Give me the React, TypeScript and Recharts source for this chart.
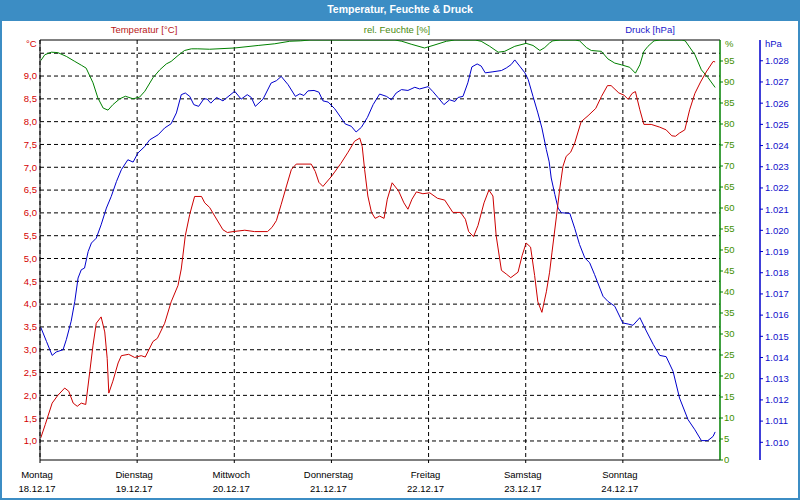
import React from 'react';
import { LineChart, Line, XAxis, YAxis, CartesianGrid, ReferenceLine } from 'recharts';

// x positions are hours since Monday 18.12.17 00:00
const dayNames = ['Montag', 'Dienstag', 'Mittwoch', 'Donnerstag', 'Freitag', 'Samstag', 'Sonntag'];
const dayDates = ['18.12.17', '19.12.17', '20.12.17', '21.12.17', '22.12.17', '23.12.17', '24.12.17'];
const dayTicks = [0, 24, 48, 72, 96, 120, 144];

const tempTicks = [1.0, 1.5, 2.0, 2.5, 3.0, 3.5, 4.0, 4.5, 5.0, 5.5, 6.0, 6.5, 7.0, 7.5, 8.0, 8.5, 9.0, 9.5];
const humTicks = [0, 5, 10, 15, 20, 25, 30, 35, 40, 45, 50, 55, 60, 65, 70, 75, 80, 85, 90, 95];
const presTicks = [1010, 1011, 1012, 1013, 1014, 1015, 1016, 1017, 1018, 1019, 1020, 1021, 1022, 1023, 1024, 1025, 1026, 1027, 1028];

const tempHours = [0.2, 1.3, 3.0, 4.4, 6.1, 7.1, 8.2, 9.2, 10.2, 11.3, 12.3, 13.1, 13.9, 15.1, 16.0, 16.6, 17.0, 18.0, 19.3, 20.1, 21.9, 23.4, 25.0, 26.0, 27.9, 29.0, 30.8, 32.4, 34.1, 34.9, 35.9, 37.0, 38.2, 39.9, 40.7, 41.9,
  42.7, 45.2, 46.3, 47.7, 50.6, 53.0, 56.2, 57.3, 58.4, 59.6, 60.9, 62.1, 63.3, 67.0, 68.0, 68.9, 69.9, 72.1, 74.3, 76.1, 77.7, 79.0, 79.6, 80.2, 81.0, 81.9, 82.8, 83.9,
  85.0, 85.8, 87.0, 88.6, 89.9, 90.9, 91.9, 93.0, 94.6, 96.3, 98.2, 100.0, 102.0, 103.9, 105.1, 105.9, 107.1, 108.2, 109.7, 110.9, 111.9, 112.7, 114.0, 115.2, 116.3, 118.1, 119.1, 120.1, 121.2, 122.2, 123.0, 124.0, 125.1, 125.9,
  126.5, 127.6, 128.4, 129.2, 130.0, 131.1, 132.1, 133.7, 135.4, 137.3, 138.7, 140.2, 141.1, 143.0, 144.3, 145.3, 146.3, 147.1, 148.2, 149.2, 151.0, 153.1, 154.7, 156.1, 157.0, 158.0, 159.3, 160.5, 161.8, 163.2, 164.6, 166.3, 166.8];
const tempValues = [1.07, 1.36, 1.83, 2.0, 2.16, 2.09, 1.83, 1.76, 1.83, 1.80, 2.52, 3.10, 3.58, 3.72, 3.39, 2.81, 2.05, 2.31, 2.71, 2.87, 2.90, 2.83, 2.87, 2.84, 3.18, 3.25, 3.58, 4.05, 4.41, 4.77, 5.50, 5.97, 6.36, 6.36, 6.22, 6.12,
  6.0, 5.63, 5.57, 5.59, 5.62, 5.59, 5.59, 5.68, 5.83, 6.19, 6.59, 6.95, 7.07, 7.07, 6.91, 6.67, 6.58, 6.81, 7.08, 7.33, 7.57, 7.64, 7.46, 6.95, 6.37, 6.01, 5.88, 5.93,
  5.88, 6.30, 6.66, 6.48, 6.22, 6.08, 6.30, 6.46, 6.42, 6.44, 6.32, 6.28, 6.01, 6.01, 5.86, 5.59, 5.48, 5.72, 6.22, 6.50, 6.37, 5.50, 4.74, 4.66, 4.58, 4.70, 5.06, 5.34, 5.25, 4.63, 4.05, 3.82, 4.27, 4.70,
  5.14, 5.93, 6.52, 7.02, 7.24, 7.33, 7.53, 8.00, 8.13, 8.29, 8.55, 8.79, 8.79, 8.63, 8.58, 8.49, 8.62, 8.66, 8.26, 7.94, 7.94, 7.88, 7.82, 7.69, 7.68, 7.75, 7.82, 8.26, 8.62, 8.87, 9.09, 9.32, 9.31];

const humHours = [0.2, 1.2, 2.8, 4.4, 6.5, 8.6, 10.2, 11.4, 13.1, 14.3, 15.6, 16.8, 18.0, 19.7, 21.1, 23.0, 24.6, 25.9, 27.9, 29.6, 31.2, 32.4, 34.1, 35.7, 37.4, 39.0, 41.9, 48.1, 53.9, 58.0, 61.7, 64.4, 66.7, 87.7, 89.4, 91.7, 95.0, 97.1, 100.4, 102.5, 107.5, 109.0, 111.1, 113.2, 114.8, 117.3, 120.1, 121.8, 123.5, 124.7, 125.9, 126.7, 128.5, 132.2, 133.3, 135.0, 136.2, 138.7, 140.3, 142.0, 143.6, 145.7, 147.1, 148.2, 149.2, 150.2, 151.7, 153.2, 158.6, 159.4, 161.8, 163.4, 165.0, 166.8];
const humValues = [95.1, 96.5, 97.1, 97.0, 96.1, 94.9, 94.0, 93.3, 89.8, 86.2, 83.8, 83.3, 84.6, 86.0, 86.6, 86.0, 86.4, 87.8, 91.0, 92.9, 94.3, 94.9, 96.3, 97.5, 97.9, 97.9, 97.8, 98.1, 98.7, 99.1, 99.7, 99.8, 100, 100, 99.7, 99.0, 98.1, 98.7, 99.7, 100, 100, 99.7, 98.5, 97.1, 97.3, 98.5, 99.2, 98.7, 97.5, 98.2, 99.3, 99.8, 100, 100, 99.8, 98.2, 97.5, 97.3, 95.5, 94.5, 94.1, 93.5, 92.1, 94.1, 97.3, 98.5, 99.8, 100, 100, 99.8, 96.5, 92.9, 91.1, 88.7];

const presHours = [0.2, 1.6, 3.0, 4.0, 5.7, 6.5, 7.7, 8.6, 9.4, 10.2, 11.0, 11.9, 12.7, 13.9, 15.1, 16.4, 17.6, 18.9, 20.1, 21.7, 23.0, 24.2, 25.9, 27.1, 29.2, 30.8, 32.4, 33.7, 34.9, 35.9, 37.0, 38.0, 39.2, 40.5, 41.3,
  42.2, 43.6, 45.2, 48.1, 49.7, 51.2, 52.2, 53.2, 55.1, 57.1, 58.4, 59.6, 61.3, 63.1, 64.2, 65.2, 66.2, 67.7, 68.9, 69.9, 71.2, 72.8, 74.3, 75.4, 76.9, 78.1, 79.4, 80.9, 82.3, 83.9,
  85.6, 86.8, 88.0, 89.3, 90.9, 92.6, 93.8, 95.9, 97.1, 98.3, 99.8, 101.2, 102.5, 103.3, 104.5, 105.7, 106.7, 108.0, 109.0, 110.0, 111.9, 114.0, 115.2, 116.4, 117.3, 118.5, 119.8, 120.6, 121.8, 123.0, 124.0, 125.1, 125.8,
  126.3, 127.2, 128.0, 128.8, 130.9, 132.1, 133.3, 134.6, 135.8, 137.0, 139.1, 140.3, 142.0, 144.0, 145.3, 146.5, 148.2, 149.8, 151.5, 153.1, 154.7, 156.4, 158.0, 160.1, 161.8, 163.4, 165.0, 166.3, 166.8];
const presValues = [1015.42, 1014.76, 1014.10, 1014.26, 1014.37, 1014.84, 1015.71, 1016.65, 1017.75, 1018.14, 1018.22, 1019.0, 1019.40, 1019.63, 1020.26, 1021.05, 1021.60, 1022.31, 1022.86, 1023.33, 1023.22, 1023.65, 1023.96, 1024.27, 1024.51, 1024.83, 1025.03, 1025.54, 1026.40, 1026.48, 1026.32, 1025.93, 1025.85, 1026.21, 1026.19,
  1026.0, 1026.27, 1026.11, 1026.56, 1026.19, 1026.40, 1026.27, 1025.85, 1026.19, 1026.95, 1027.06, 1027.26, 1026.87, 1026.32, 1026.44, 1026.36, 1026.58, 1026.60, 1026.52, 1026.11, 1026.05, 1025.74, 1025.33, 1025.02, 1024.91, 1024.64, 1024.86, 1025.33, 1025.93, 1026.43,
  1026.32, 1026.16, 1026.48, 1026.64, 1026.60, 1026.75, 1026.67, 1026.78, 1026.54, 1026.27, 1025.93, 1026.16, 1026.08, 1026.27, 1026.32, 1026.96, 1027.71, 1027.85, 1027.75, 1027.43, 1027.48, 1027.54, 1027.66, 1027.82, 1028.04, 1027.75, 1027.43, 1027.12, 1026.32, 1025.54, 1024.83, 1023.81, 1023.23,
  1022.47, 1021.69, 1021.05, 1020.83, 1020.80, 1020.10, 1019.33, 1018.70, 1018.47, 1017.92, 1016.89, 1016.65, 1016.42, 1015.63, 1015.58, 1015.52, 1015.88, 1015.25, 1014.62, 1014.10, 1014.04, 1013.35, 1012.09, 1011.07, 1010.59, 1010.08, 1010.08, 1010.28, 1010.49];

const zip = (hs: number[], vs: number[]) => hs.map((h, i) => ({ h, v: vs[i] }));
const tempData = zip(tempHours, tempValues);
const humData = zip(humHours, humValues);
const presData = zip(presHours, presValues);

const FONT = '"Liberation Sans", Arial, sans-serif';
const RED = '#cc0000';
const GREEN = '#008000';
const BLUE = '#0000cc';
const TXT_RED = '#d40000';
const TXT_GREEN = '#3f8f00';
const TXT_BLUE = '#1010cc';

const DayTick = (props: any) => {
  const { x, y, payload } = props;
  const i = dayTicks.indexOf(payload.value);
  if (i < 0) return null;
  return (
    <g>
      <text x={x - 3} y={y + 12.5} textAnchor="middle" fontSize={9.5} fontFamily={FONT} fill="#000">{dayNames[i]}</text>
      <text x={x - 3} y={y + 26.5} textAnchor="middle" fontSize={9.5} fontFamily={FONT} fill="#000">{dayDates[i]}</text>
    </g>
  );
};

const fmtTemp = (v: number) => (v === 9.5 ? '' : v.toFixed(1).replace('.', ','));
const fmtPres = (v: number) => '1.' + String(v).slice(1);

export default function App() {
  const tickStyle = { fontSize: 9.5, fontFamily: FONT };
  return (
    <div style={{ position: 'absolute', left: 0, top: 0, width: 800, height: 500, background: '#fff', fontFamily: FONT }}>
      <LineChart width={800} height={500} data={tempData} margin={{ top: 40, right: 0, bottom: 0, left: 0 }}>
        <CartesianGrid yAxisId="t" stroke="#000" strokeDasharray="4 3" horizontalValues={tempTicks} verticalValues={dayTicks} />
        <XAxis dataKey="h" type="number" domain={[0, 168]} ticks={dayTicks} allowDataOverflow height={40}
          axisLine={{ stroke: '#000' }} tickLine={{ stroke: '#000' }} tickSize={3} tickMargin={2} tick={<DayTick />} interval={0} />
        <YAxis yAxisId="t" orientation="left" width={40} type="number" domain={[0.583, 9.79]} ticks={tempTicks} allowDataOverflow
          axisLine={{ stroke: '#000' }} tickLine={false} tickSize={1} tickMargin={2} interval={0}
          tick={{ ...tickStyle, fill: TXT_RED }} tickFormatter={fmtTemp} />
        <YAxis yAxisId="h" orientation="right" width={40} type="number" domain={[0, 100]} ticks={humTicks} allowDataOverflow
          axisLine={{ stroke: GREEN, strokeWidth: 1.5 }} tickLine={{ stroke: GREEN }} tickSize={3} tickMargin={1} interval={0}
          tick={{ ...tickStyle, fill: TXT_GREEN, textAnchor: 'start' }} />
        <YAxis yAxisId="p" orientation="right" width={40} type="number" domain={[1009.165, 1028.98]} ticks={presTicks} allowDataOverflow
          axisLine={{ stroke: BLUE, strokeWidth: 1.5 }} tickLine={{ stroke: BLUE }} tickSize={3} tickMargin={2} interval={0}
          tick={{ ...tickStyle, fill: TXT_BLUE, textAnchor: 'start' }} tickFormatter={fmtPres} />
        <ReferenceLine yAxisId="t" y={9.79} stroke="#000" ifOverflow="extendDomain" />
        <Line yAxisId="h" data={humData} dataKey="v" type="linear" stroke={GREEN} strokeWidth={1} dot={false} isAnimationActive={false} />
        <Line yAxisId="p" data={presData} dataKey="v" type="linear" stroke={BLUE} strokeWidth={1} dot={false} isAnimationActive={false} />
        <Line yAxisId="t" data={tempData} dataKey="v" type="linear" stroke={RED} strokeWidth={1} dot={false} isAnimationActive={false} />
      </LineChart>
      <div style={{ position: 'absolute', left: 0, top: 0, width: 800, height: 21, background: '#3c8dc4', color: '#fff', fontWeight: 'bold', fontSize: 10.5, lineHeight: '19px', textAlign: 'center' }}>
        Temperatur, Feuchte &amp; Druck
      </div>
      <div style={{ position: 'absolute', left: 0, top: 0, width: 800, height: 500, boxSizing: 'border-box', border: '2px solid #3c8dc4', pointerEvents: 'none' }} />
      <div style={{ position: 'absolute', left: 94, width: 100, top: 24, fontSize: 9.5, color: '#b81818', textAlign: 'center' }}>Temperatur [°C]</div>
      <div style={{ position: 'absolute', left: 347, width: 100, top: 24, fontSize: 9.5, color: '#4a8a10', textAlign: 'center' }}>rel. Feuchte [%]</div>
      <div style={{ position: 'absolute', left: 600, width: 100, top: 24, fontSize: 9.5, color: '#1a1acc', textAlign: 'center' }}>Druck [hPa]</div>
      <div style={{ position: 'absolute', left: 26, top: 38, fontSize: 9.5, color: TXT_RED }}>°C</div>
      <div style={{ position: 'absolute', left: 725, top: 38, fontSize: 9.5, color: TXT_GREEN }}>%</div>
      <div style={{ position: 'absolute', left: 765, top: 38, fontSize: 9.5, color: TXT_BLUE }}>hPa</div>
    </div>
  );
}
